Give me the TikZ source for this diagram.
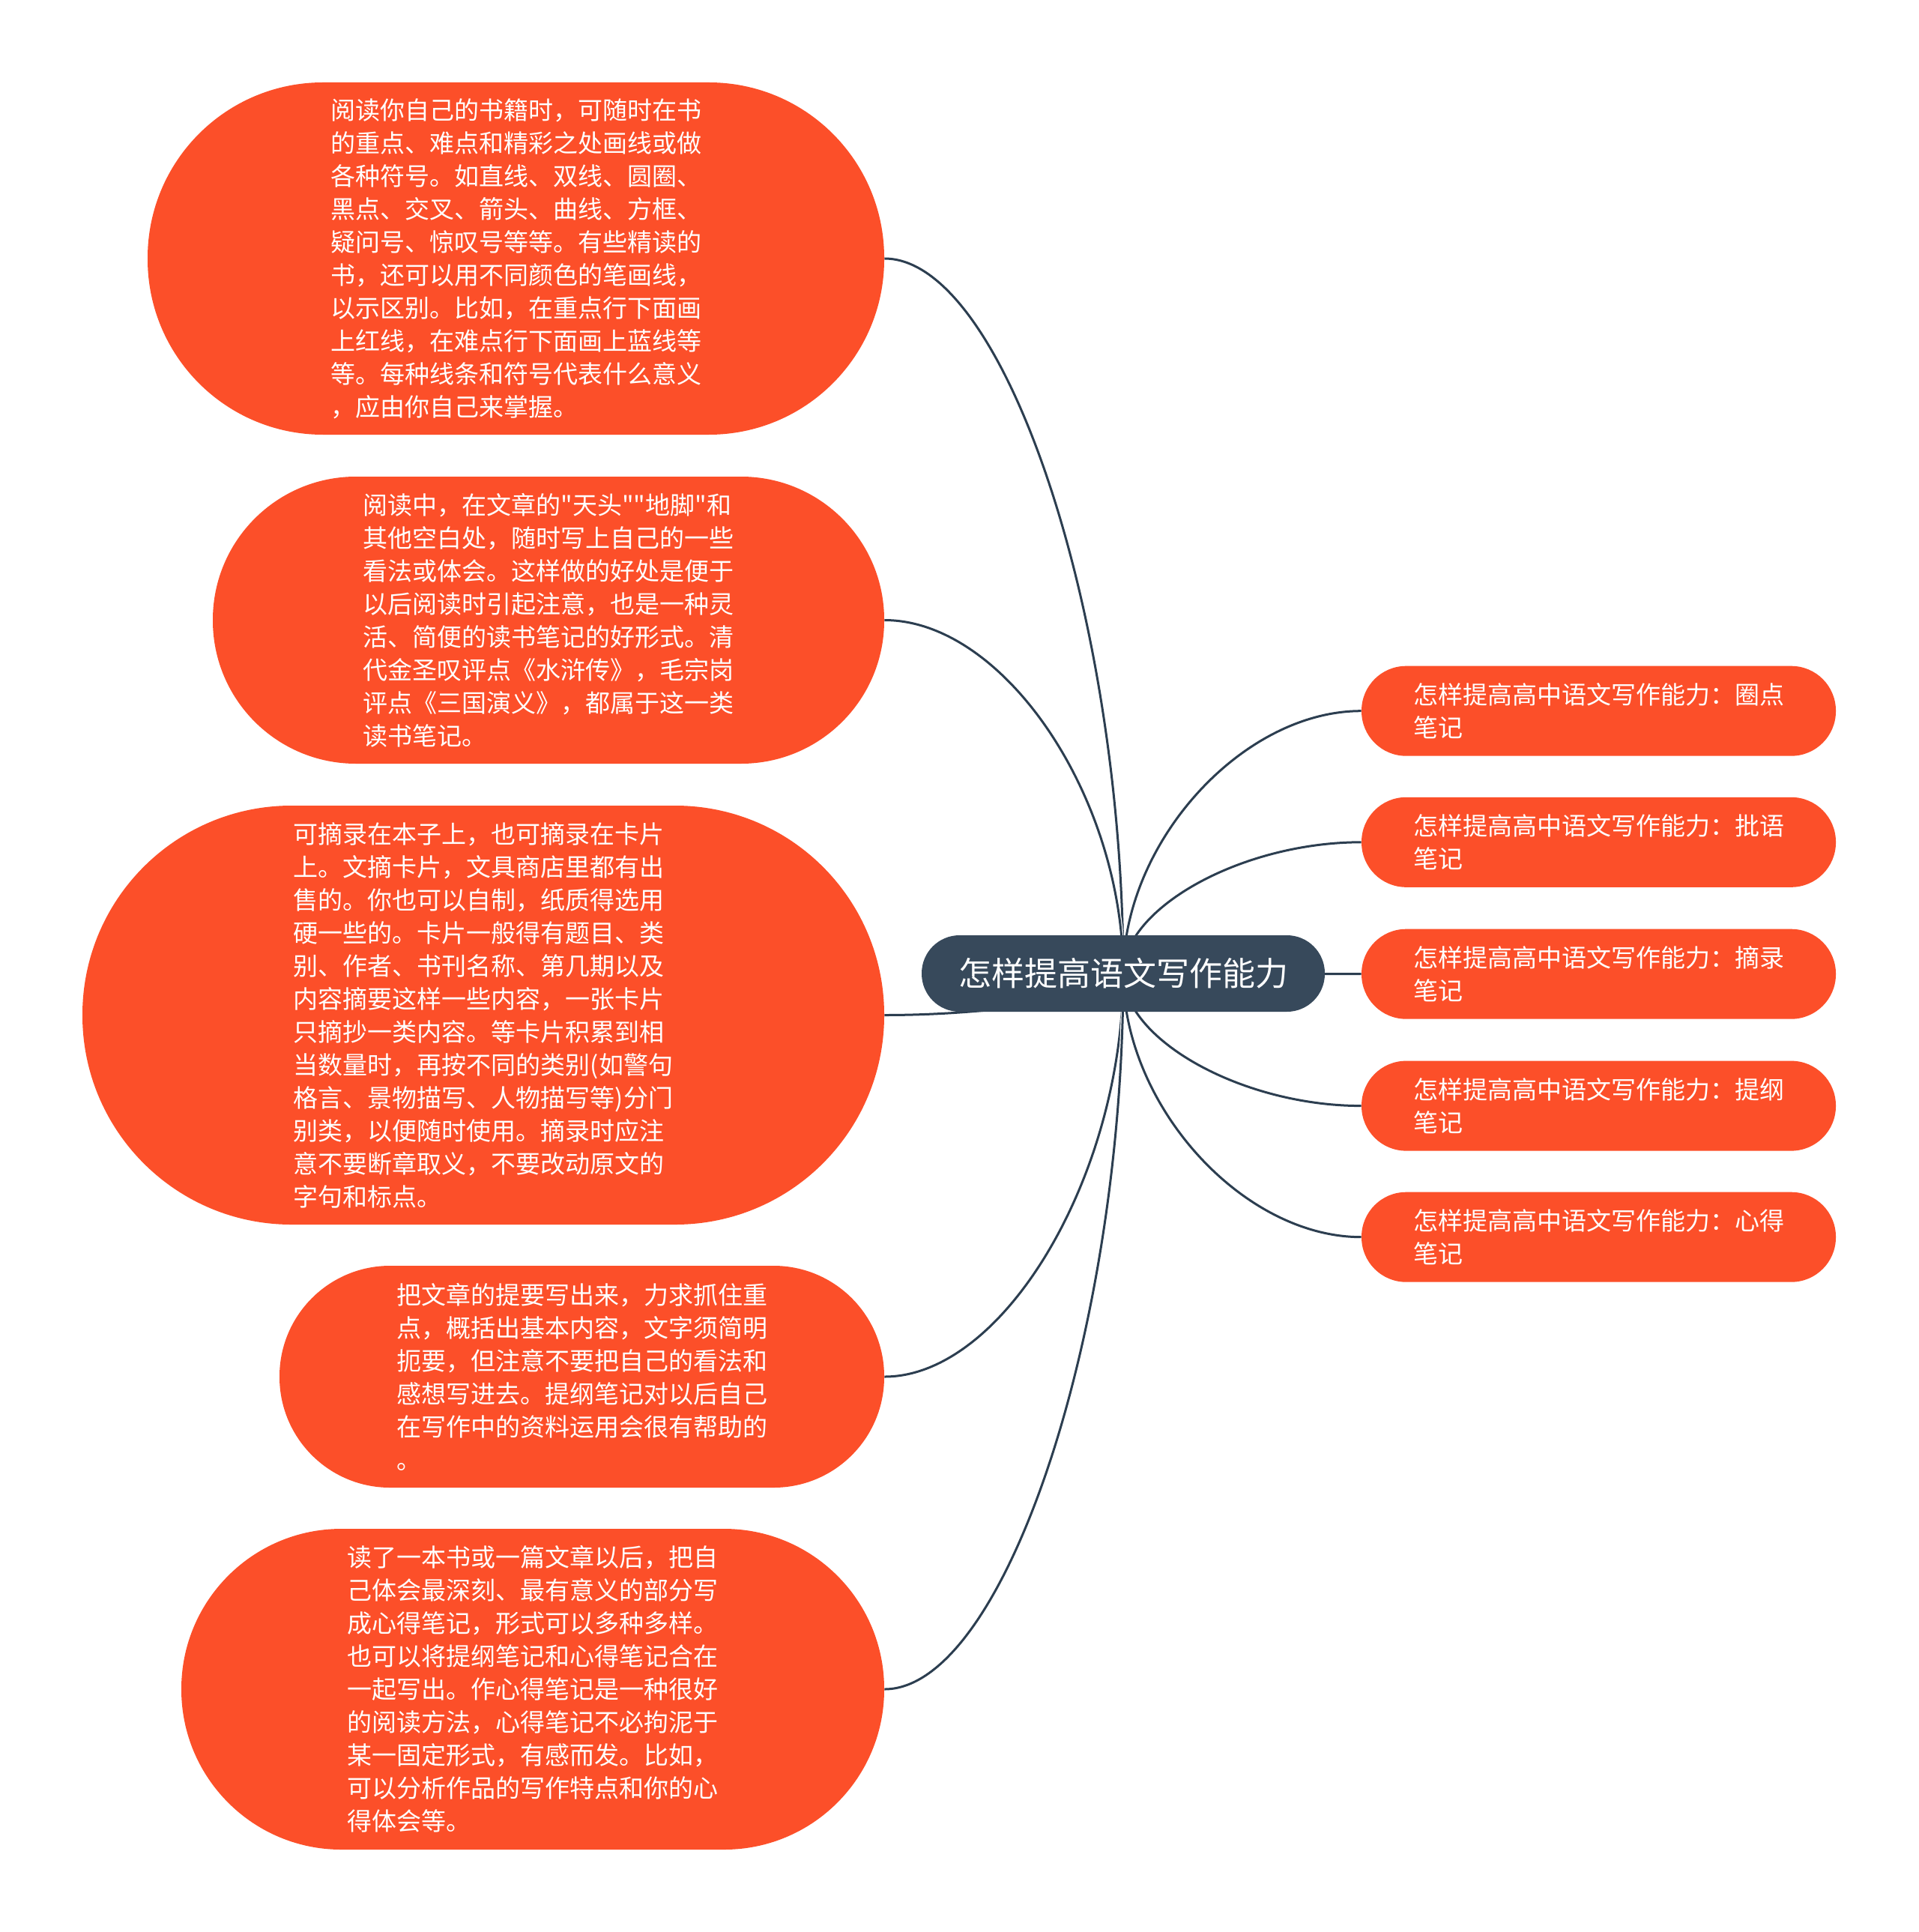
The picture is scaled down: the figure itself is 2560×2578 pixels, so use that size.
\documentclass[tikz,border=0pt]{standalone}
\usepackage{fontspec}
\newfontfamily\cjkf{Noto Sans CJK SC}
\usetikzlibrary{calc}
\pgfdeclarelayer{bg}
\pgfsetlayers{bg,main}
\definecolor{leafC}{HTML}{FC4F29}
\definecolor{rootC}{HTML}{37495B}
\definecolor{lineC}{HTML}{2C3E50}
\begin{document}
\begin{tikzpicture}[x=0.5pt,y=-0.5pt,
  leaf/.style={fill=leafC, draw=none, text=white, inner sep=0pt, align=left,
    font=\cjkf\fontsize{16.5pt}{22pt}\selectfont},
  rightleaf/.style={leaf, minimum width=316.5pt, minimum height=60pt, rounded corners=29.8pt},
  rootnode/.style={fill=rootC, draw=none, text=white, inner sep=0pt,
    minimum width=269pt, minimum height=51pt, rounded corners=25.3pt,
    font=\cjkf\fontsize{22pt}{26pt}\selectfont},
  conn/.style={draw=white, line width=0.6pt, double=lineC, double distance=1.5pt}]

\useasboundingbox (0,0) rectangle (2560,2578);

\node[rootnode] (root) at (1499,1299) {怎样提高语文写作能力};

\node[leaf, minimum width=491.5pt, minimum height=235pt, rounded corners=117pt] (L1) at (688.5,345) {阅读你自己的书籍时，可随时在书\\
的重点、难点和精彩之处画线或做\\
各种符号。如直线、双线、圆圈、\\
黑点、交叉、箭头、曲线、方框、\\
疑问号、惊叹号等等。有些精读的\\
书，还可以用不同颜色的笔画线，\\
以示区别。比如，在重点行下面画\\
上红线，在难点行下面画上蓝线等\\
等。每种线条和符号代表什么意义\\
，应由你自己来掌握。};

\node[leaf, minimum width=448pt, minimum height=191.5pt, rounded corners=95.5pt] (L2) at (732,827.5) {阅读中，在文章的"天头""地脚"和\\
其他空白处，随时写上自己的一些\\
看法或体会。这样做的好处是便于\\
以后阅读时引起注意，也是一种灵\\
活、简便的读书笔记的好形式。清\\
代金圣叹评点《水浒传》，毛宗岗\\
评点《三国演义》，都属于这一类\\
读书笔记。};

\node[leaf, minimum width=535pt, minimum height=279.5pt, rounded corners=139.5pt] (L3) at (645,1354.5) {可摘录在本子上，也可摘录在卡片\\
上。文摘卡片，文具商店里都有出\\
售的。你也可以自制，纸质得选用\\
硬一些的。卡片一般得有题目、类\\
别、作者、书刊名称、第几期以及\\
内容摘要这样一些内容，一张卡片\\
只摘抄一类内容。等卡片积累到相\\
当数量时，再按不同的类别(如警句\\
格言、景物描写、人物描写等)分门\\
别类，以便随时使用。摘录时应注\\
意不要断章取义，不要改动原文的\\
字句和标点。};

\node[leaf, minimum width=403.5pt, minimum height=148pt, rounded corners=73.8pt] (L4) at (776.5,1837) {把文章的提要写出来，力求抓住重\\
点，概括出基本内容，文字须简明\\
扼要，但注意不要把自己的看法和\\
感想写进去。提纲笔记对以后自己\\
在写作中的资料运用会很有帮助的\\
。};

\node[leaf, minimum width=469pt, minimum height=214pt, rounded corners=106.8pt] (L5) at (711,2254) {读了一本书或一篇文章以后，把自\\
己体会最深刻、最有意义的部分写\\
成心得笔记，形式可以多种多样。\\
也可以将提纲笔记和心得笔记合在\\
一起写出。作心得笔记是一种很好\\
的阅读方法，心得笔记不必拘泥于\\
某一固定形式，有感而发。比如，\\
可以分析作品的写作特点和你的心\\
得体会等。};

\node[rightleaf] (R1) at (2133.5,948.7) {怎样提高高中语文写作能力：圈点\\笔记};
\node[rightleaf] (R2) at (2133.5,1123.8) {怎样提高高中语文写作能力：批语\\笔记};
\node[rightleaf] (R3) at (2133.5,1299.7) {怎样提高高中语文写作能力：摘录\\笔记};
\node[rightleaf] (R4) at (2133.5,1475.6) {怎样提高高中语文写作能力：提纲\\笔记};
\node[rightleaf] (R5) at (2133.5,1650.7) {怎样提高高中语文写作能力：心得\\笔记};

\begin{pgfonlayer}{bg}
\fill[white] (0,0) rectangle (2560,2578);
\foreach \n in {L1,L2,L3,L4,L5}
  \draw[conn] (\n.east) .. controls ($(\n.east)!0.5!(\n.east -| root.center)$) and ($(root.center)!0.5!(root.center |- \n.east)$) .. (root.center);
\foreach \n in {R1,R2,R3,R4,R5}
  \draw[conn] (root.center) .. controls ($(root.center)!0.5!(root.center |- \n.west)$) and ($(\n.west)!0.5!(\n.west -| root.center)$) .. (\n.west);
\end{pgfonlayer}
\end{tikzpicture}
\end{document}
